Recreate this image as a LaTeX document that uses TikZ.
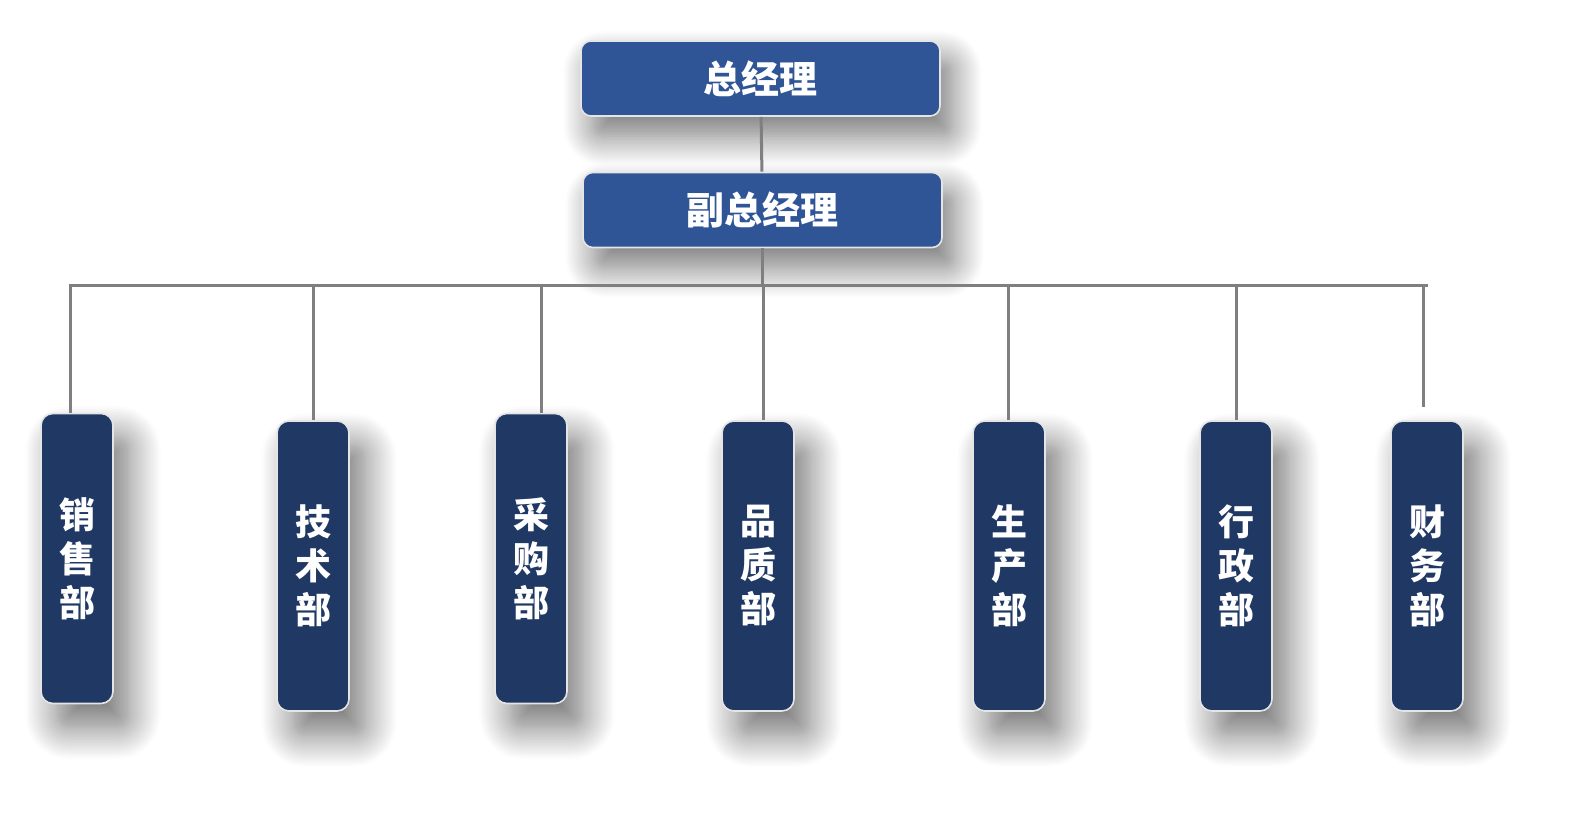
\documentclass[tikz,border=0pt]{standalone}
\usepackage{fontspec}
\newfontfamily\cjk{Noto Sans CJK SC}
\usetikzlibrary{positioning,shadows.blur}
\definecolor{topblue}{HTML}{2F5597}
\definecolor{deptblue}{HTML}{203864}
\definecolor{linegray}{HTML}{7F7F7F}
\tikzset{
  boss/.style={draw=white!80!gray, line width=0.8pt, fill=topblue,
    rounded corners=5pt, minimum width=179.5pt, minimum height=37.5pt,
    text=white, font=\cjk\bfseries\fontsize{19}{22}\selectfont,
    blur shadow={shadow xshift=6pt, shadow yshift=-10pt,
      shadow blur radius=15pt, shadow blur steps=20, shadow opacity=55}},
  dept/.style={draw=white!80!gray, line width=0.8pt, fill=deptblue,
    rounded corners=6pt, minimum width=36pt, minimum height=145pt,
    align=center, text=white, font=\cjk\bfseries\fontsize{18}{22}\selectfont,
    blur shadow={shadow xshift=8pt, shadow yshift=-12pt,
      shadow blur radius=16pt, shadow blur steps=20, shadow opacity=55}},
  link/.style={draw=linegray, line width=1.5pt}
}
\begin{document}
\begin{tikzpicture}[x=0.5pt,y=-0.5pt]
    \node[boss] (gm)  at (760.5,78.5) {总经理};
    \node[boss] (vgm) at (762.5,210)  {副总经理};

    % departments: name / centre x / centre y / drop x / gap / text
    \foreach \name/\x/\y/\lx/\gap/\txt in {
        sales/77/558.5/70/0/{销\\售\\部},
        tech/313/566/313/0/{技\\术\\部},
        purchase/531/558.5/541/0/{采\\购\\部},
        quality/758/566/763.5/0/{品\\质\\部},
        production/1009/566/1008/0/{生\\产\\部},
        admin/1236/566/1236/0/{行\\政\\部},
        finance/1427/566/1423.5/6.5/{财\\务\\部}}{%
        \node[dept] (\name) at (\x,\y) {\txt};
        \coordinate (t\name) at (\lx,285);
        \draw[link, shorten >=\gap pt] (t\name) -- (t\name |- \name.north);
    }

    \coordinate (busL) at (69,285);
    \coordinate (busR) at (1428,285);
    \draw[link] (busL) -- (busR);
    \draw[link] (gm) -- (vgm);
    \draw[link] (vgm.south) -- (vgm.south |- busL);

    \pgfresetboundingbox
    \useasboundingbox (0,0) rectangle (1593,829);
\end{tikzpicture}
\end{document}
